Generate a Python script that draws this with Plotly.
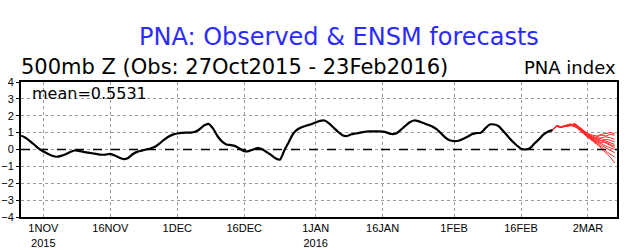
import pandas as pd
import plotly.graph_objects as go

# Observed daily PNA index, 27 Oct 2015 .. 23 Feb 2016
obs_start = "2015-10-27"
obs_values = [
    0.82, 0.70, 0.50, 0.28, 0.05, -0.12, -0.25, -0.37, -0.43, -0.38,
    -0.28, -0.15, -0.06, -0.08, -0.14, -0.18, -0.22, -0.27, -0.31, -0.30,
    -0.26, -0.35, -0.48, -0.57, -0.50, -0.28, -0.14, -0.07, 0.00, 0.06,
    0.16, 0.35, 0.57, 0.76, 0.88, 0.95, 0.99, 1.00, 1.00, 1.05,
    1.20, 1.42, 1.52, 1.25, 0.80, 0.48, 0.30, 0.26, 0.20, 0.05,
    -0.10, -0.10, 0.00, 0.08, 0.02, -0.15, -0.32, -0.52, -0.60, -0.05,
    0.45, 0.95, 1.20, 1.33, 1.42, 1.50, 1.60, 1.70, 1.72, 1.55,
    1.30, 1.05, 0.85, 0.80, 0.90, 0.95, 1.00, 1.05, 1.07, 1.07,
    1.08, 1.06, 1.00, 0.92, 0.95, 1.15, 1.38, 1.60, 1.72, 1.68,
    1.58, 1.48, 1.38, 1.22, 0.98, 0.72, 0.55, 0.50, 0.52, 0.62,
    0.75, 0.90, 0.97, 1.00, 1.25, 1.48, 1.48, 1.38, 1.10, 0.80,
    0.50, 0.25, 0.05, 0.00, 0.08, 0.35, 0.60, 0.88, 1.05, 1.15,
]

# Ensemble forecasts, 23 Feb 2016 .. 8 Mar 2016
fc_start = "2016-02-23"
ens_members = [
    [1.15, 1.38, 1.33, 1.40, 1.45, 1.50, 1.30, 1.10, 0.95, 0.85, 0.80, 0.90, 0.95, 1.00, 0.95],
    [1.15, 1.40, 1.35, 1.38, 1.48, 1.45, 1.25, 1.05, 0.90, 0.70, 0.75, 0.85, 0.80, 0.90, 0.85],
    [1.15, 1.36, 1.30, 1.42, 1.52, 1.40, 1.20, 1.00, 0.80, 0.65, 0.60, 0.70, 0.75, 0.70, 0.60],
    [1.15, 1.39, 1.34, 1.35, 1.40, 1.55, 1.35, 1.15, 0.85, 0.75, 0.55, 0.50, 0.60, 0.55, 0.45],
    [1.15, 1.37, 1.32, 1.40, 1.42, 1.38, 1.28, 0.95, 0.75, 0.60, 0.50, 0.40, 0.45, 0.30, 0.20],
    [1.15, 1.40, 1.36, 1.45, 1.50, 1.42, 1.18, 0.90, 0.70, 0.55, 0.45, 0.35, 0.20, 0.10, 0.00],
    [1.15, 1.38, 1.31, 1.38, 1.46, 1.35, 1.22, 1.05, 0.82, 0.60, 0.40, 0.25, 0.10, -0.05, -0.20],
    [1.15, 1.41, 1.33, 1.36, 1.44, 1.48, 1.30, 1.00, 0.78, 0.50, 0.30, 0.15, -0.10, -0.30, -0.45],
    [1.15, 1.39, 1.35, 1.41, 1.43, 1.40, 1.15, 0.95, 0.72, 0.55, 0.35, 0.05, -0.20, -0.45, -0.80],
    [1.15, 1.37, 1.34, 1.39, 1.47, 1.52, 1.32, 1.12, 0.90, 0.80, 0.65, 0.55, 0.35, 0.20, 0.10],
    [1.15, 1.40, 1.32, 1.43, 1.49, 1.44, 1.26, 1.08, 0.88, 0.68, 0.70, 0.65, 0.50, 0.40, 0.30],
]

tick_dates = ["2015-11-01", "2015-11-16", "2015-12-01", "2015-12-16", "2016-01-01",
              "2016-01-16", "2016-02-01", "2016-02-16", "2016-03-02"]
tick_labels = ["1NOV<br>2015", "16NOV", "1DEC", "16DEC", "1JAN<br>2016",
               "16JAN", "1FEB", "16FEB", "2MAR"]
y_ticks = [-4, -3, -2, -1, 0, 1, 2, 3, 4]

title_text = "PNA: Observed &amp; ENSM forecasts"
subtitle_text = "500mb Z (Obs: 27Oct2015 - 23Feb2016)"
right_text = "PNA index"
mean_text = "mean=0.5531"

obs_dates = pd.date_range(obs_start, periods=len(obs_values), freq="D")
fc_dates = pd.date_range(fc_start, periods=len(ens_members[0]), freq="D")

fig = go.Figure()
for m in ens_members:
    fig.add_trace(go.Scatter(x=fc_dates, y=m, mode="lines",
                             line=dict(color="#ff2a2a", width=1), showlegend=False,
                             hoverinfo="skip"))
fig.add_trace(go.Scatter(x=obs_dates, y=obs_values, mode="lines",
                         line=dict(color="black", width=2.2, shape="spline", smoothing=0.6),
                         showlegend=False))

fig.add_hline(y=0, line=dict(color="black", width=1.3, dash="dash"))

font_main = "DejaVu Sans, Liberation Sans, sans-serif"

fig.update_layout(
    width=640, height=250,
    margin=dict(l=21, r=23, t=82, b=33),
    paper_bgcolor="white", plot_bgcolor="white",
    font=dict(family=font_main, color="black"),
    xaxis=dict(
        range=["2015-10-27", "2016-03-08 12:00"],
        tickmode="array", tickvals=tick_dates, ticktext=tick_labels,
        tickfont=dict(family="Liberation Sans, Arial, sans-serif", size=11, color="black"),
        showgrid=True, gridcolor="#9a9a9a", griddash="dot", gridwidth=1,
        showline=True, linecolor="black", linewidth=2, mirror=True,
        ticks="",
        zeroline=False, automargin=False,
    ),
    yaxis=dict(
        range=[-4, 4], tickmode="array", tickvals=y_ticks,
        tickfont=dict(family="Liberation Sans, Arial, sans-serif", size=11, color="black"),
        showgrid=True, gridcolor="#9a9a9a", griddash="dot", gridwidth=1,
        showline=True, linecolor="black", linewidth=2, mirror=True,
        ticks="outside", ticklen=3, tickcolor="black",
        zeroline=False, automargin=False,
    ),
    annotations=[
        dict(text=title_text, xref="paper", yref="paper", x=0.534, y=1.333,
             xanchor="center", yanchor="middle", showarrow=False,
             font=dict(family=font_main, size=24, color="#2b2bff")),
        dict(text=subtitle_text, xref="paper", yref="paper", x=-0.003, y=1.111,
             xanchor="left", yanchor="middle", showarrow=False,
             font=dict(family=font_main, size=21, color="black")),
        dict(text=right_text, xref="paper", yref="paper", x=1.002, y=1.111,
             xanchor="right", yanchor="middle", showarrow=False,
             font=dict(family=font_main, size=18, color="black")),
        dict(text=mean_text, xref="paper", yref="paper", x=0.015, y=0.918,
             xanchor="left", yanchor="middle", showarrow=False,
             font=dict(family=font_main, size=16, color="black")),
    ],
)

fig.write_html("out.html", config={"displayModeBar": False},
               post_script="document.body.style.margin='0';")
